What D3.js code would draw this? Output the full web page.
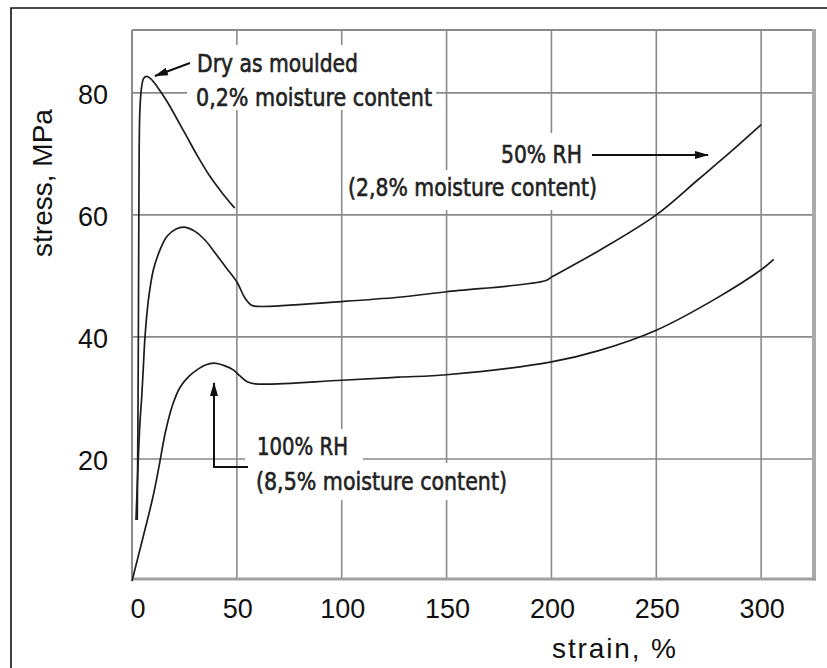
<!DOCTYPE html>
<html><head><meta charset="utf-8">
<script src="https://cdn.jsdelivr.net/npm/d3@7"></script>
<style>body{margin:0;background:#fff}svg{display:block}</style>
</head><body><svg id="c" width="827" height="668"></svg>
<script>
// ---- data ----
const xTicks = [0, 50, 100, 150, 200, 250, 300];
const yTicks = [20, 40, 60, 80];
const xLabel = "strain, %";
const yLabel = "stress, MPa";
const dryStrain =   [2.5, 2.9, 3.2, 3.4, 3.8, 4.6, 5.6, 7, 9, 12, 16.5, 21, 26, 31, 37, 43, 49];
const dryStress =   [10, 30, 55, 70, 77.5, 81, 82.4, 82.7, 82.3, 81, 78.7, 76, 72.9, 69.8, 66.4, 63.6, 61.1];
const rh50Strain = [1.9, 3, 3.8, 4.6, 5.4, 6.2, 7.8, 10.2, 13.4, 16.7, 21, 25, 30, 35, 40, 45, 50, 54, 57, 60, 100, 127, 150, 197, 200, 224, 250, 270, 285, 300];
const rh50Stress = [10, 20, 26, 30, 35, 40, 46, 51, 54.3, 56.5, 57.7, 58, 57.3, 55.8, 53.6, 51.3, 49, 46.3, 45.2, 45, 45.8, 46.5, 47.4, 49.2, 49.8, 54.4, 60, 65.8, 70.2, 74.8];
const rh100Strain = [0, 5, 10, 13, 16, 19.5, 23, 27, 31, 35, 39, 44, 48.3, 51.5, 54.7, 58.7, 100, 127, 150, 200, 223, 250, 279, 300, 306];
const rh100Stress = [0, 6.8, 13.8, 19, 24.5, 29, 31.8, 33.5, 34.6, 35.4, 35.7, 35.3, 34.6, 33.6, 32.7, 32.3, 32.9, 33.4, 33.8, 35.9, 37.8, 41.1, 46.4, 51, 52.7];
const annDry = ["Dry as moulded", "0,2% moisture content"];
const ann50 = ["50% RH", "(2,8% moisture content)"];
const ann100 = ["100% RH", "(8,5% moisture content)"];

const svg = d3.select("#c");
const L = 132, T = 30, R = 814, B = 579;
const x = d3.scaleLinear().domain([0, 325.2]).range([L, R]);
const y = d3.scaleLinear().domain([0, 90.3]).range([581, T]);

// outer frame
svg.append("path").attr("d", "M11,668 V8 H827").attr("fill", "none").attr("stroke", "#111").attr("stroke-width", 1.6);

// grid
const gridC = "#8a8a8a";
svg.append("g").selectAll("line").data(xTicks.filter(d => d > 0)).join("line")
  .attr("x1", d => x(d)).attr("x2", d => x(d)).attr("y1", T).attr("y2", B)
  .attr("stroke", gridC).attr("stroke-width", 1.6);
svg.append("g").selectAll("line").data(yTicks).join("line")
  .attr("x1", L).attr("x2", R).attr("y1", d => y(d)).attr("y2", d => y(d))
  .attr("stroke", gridC).attr("stroke-width", 1.6);
// plot frame
svg.append("line").attr("x1", L).attr("x2", R).attr("y1", T).attr("y2", T).attr("stroke", gridC).attr("stroke-width", 1.8);
svg.append("line").attr("x1", L).attr("x2", L).attr("y1", T).attr("y2", B).attr("stroke", gridC).attr("stroke-width", 2);
svg.append("line").attr("x1", R).attr("x2", R).attr("y1", T - 1).attr("y2", B + 1.5).attr("stroke", "#aaa").attr("stroke-width", 4);
svg.append("line").attr("x1", L - 1).attr("x2", R + 2).attr("y1", B).attr("y2", B).attr("stroke", "#a0a0a0").attr("stroke-width", 3);

// white gaps behind annotation text
const gaps = [[187, 45, 436, 110], [490, 133, 592, 170], [344, 170, 606, 210], [245, 429, 363, 463], [250, 463, 512, 500]];
svg.append("g").selectAll("rect").data(gaps).join("rect")
  .attr("x", d => d[0]).attr("y", d => d[1]).attr("width", d => d[2] - d[0]).attr("height", d => d[3] - d[1]).attr("fill", "#fff");

// ticks labels
const tf = "'Liberation Sans', Arial, sans-serif";
svg.append("g").selectAll("text").data(xTicks).join("text")
  .attr("x", d => x(d) + (d === 0 ? 6 : 1)).attr("y", 618).attr("text-anchor", "middle")
  .attr("font-family", tf).attr("font-size", 27).attr("fill", "#111").text(d => d);
svg.append("g").selectAll("text").data(yTicks).join("text")
  .attr("x", 108).attr("y", d => y(d) + 11).attr("text-anchor", "end")
  .attr("font-family", tf).attr("font-size", 27).attr("fill", "#111").text(d => d);
svg.append("text").attr("x", 614).attr("y", 658).attr("text-anchor", "middle")
  .attr("font-family", tf).attr("font-size", 28).attr("fill", "#111").attr("textLength", 124).text(xLabel);
svg.append("text").attr("transform", "translate(52,183) rotate(-90)").attr("text-anchor", "middle")
  .attr("font-family", tf).attr("font-size", 28).attr("fill", "#111").text(yLabel);

// curves
const line = d3.line().x(d => x(d[0])).y(d => y(d[1])).curve(d3.curveCatmullRom.alpha(0.5));
const series = [
  d3.zip(dryStrain, dryStress),
  d3.zip(rh50Strain, rh50Stress),
  d3.zip(rh100Strain, rh100Stress)
];
svg.append("g").selectAll("path").data(series).join("path")
  .attr("d", line).attr("fill", "none").attr("stroke", "#1c1c1c").attr("stroke-width", 1.7);

// arrows
const defs = svg.append("defs");
defs.append("marker").attr("id", "ah").attr("viewBox", "0 0 14 8").attr("refX", 13).attr("refY", 4)
  .attr("markerWidth", 14).attr("markerHeight", 8).attr("markerUnits", "userSpaceOnUse").attr("orient", "auto")
  .append("path").attr("d", "M0,0 L14,4 L0,8 Z").attr("fill", "#111");
const arrows = [
  [[190, 63], [155, 76]],
  [[592, 155], [708, 155]],
  [[248, 467], [214, 467], [214, 383]]
];
svg.append("g").selectAll("path").data(arrows).join("path")
  .attr("d", d => d3.line()(d)).attr("fill", "none").attr("stroke", "#111").attr("stroke-width", 2)
  .attr("marker-end", "url(#ah)");

// annotation text
const af = "'DejaVu Sans Condensed', 'Liberation Sans Narrow', sans-serif";
const annRows = [
  [annDry[0], 197, 72, 161], [annDry[1], 196, 106, 236],
  [ann50[0], 501, 163, 81], [ann50[1], 348, 196, 249],
  [ann100[0], 257, 455, 91], [ann100[1], 256, 490, 251]
];
svg.append("g").selectAll("text").data(annRows).join("text")
  .attr("x", d => d[1]).attr("y", d => d[2]).attr("textLength", d => d[3]).attr("lengthAdjust", "spacingAndGlyphs")
  .attr("font-family", af).attr("font-size", 25).attr("fill", "#222")
  .attr("stroke", "#222").attr("stroke-width", 0.6).text(d => d[0]);
</script></body></html>
